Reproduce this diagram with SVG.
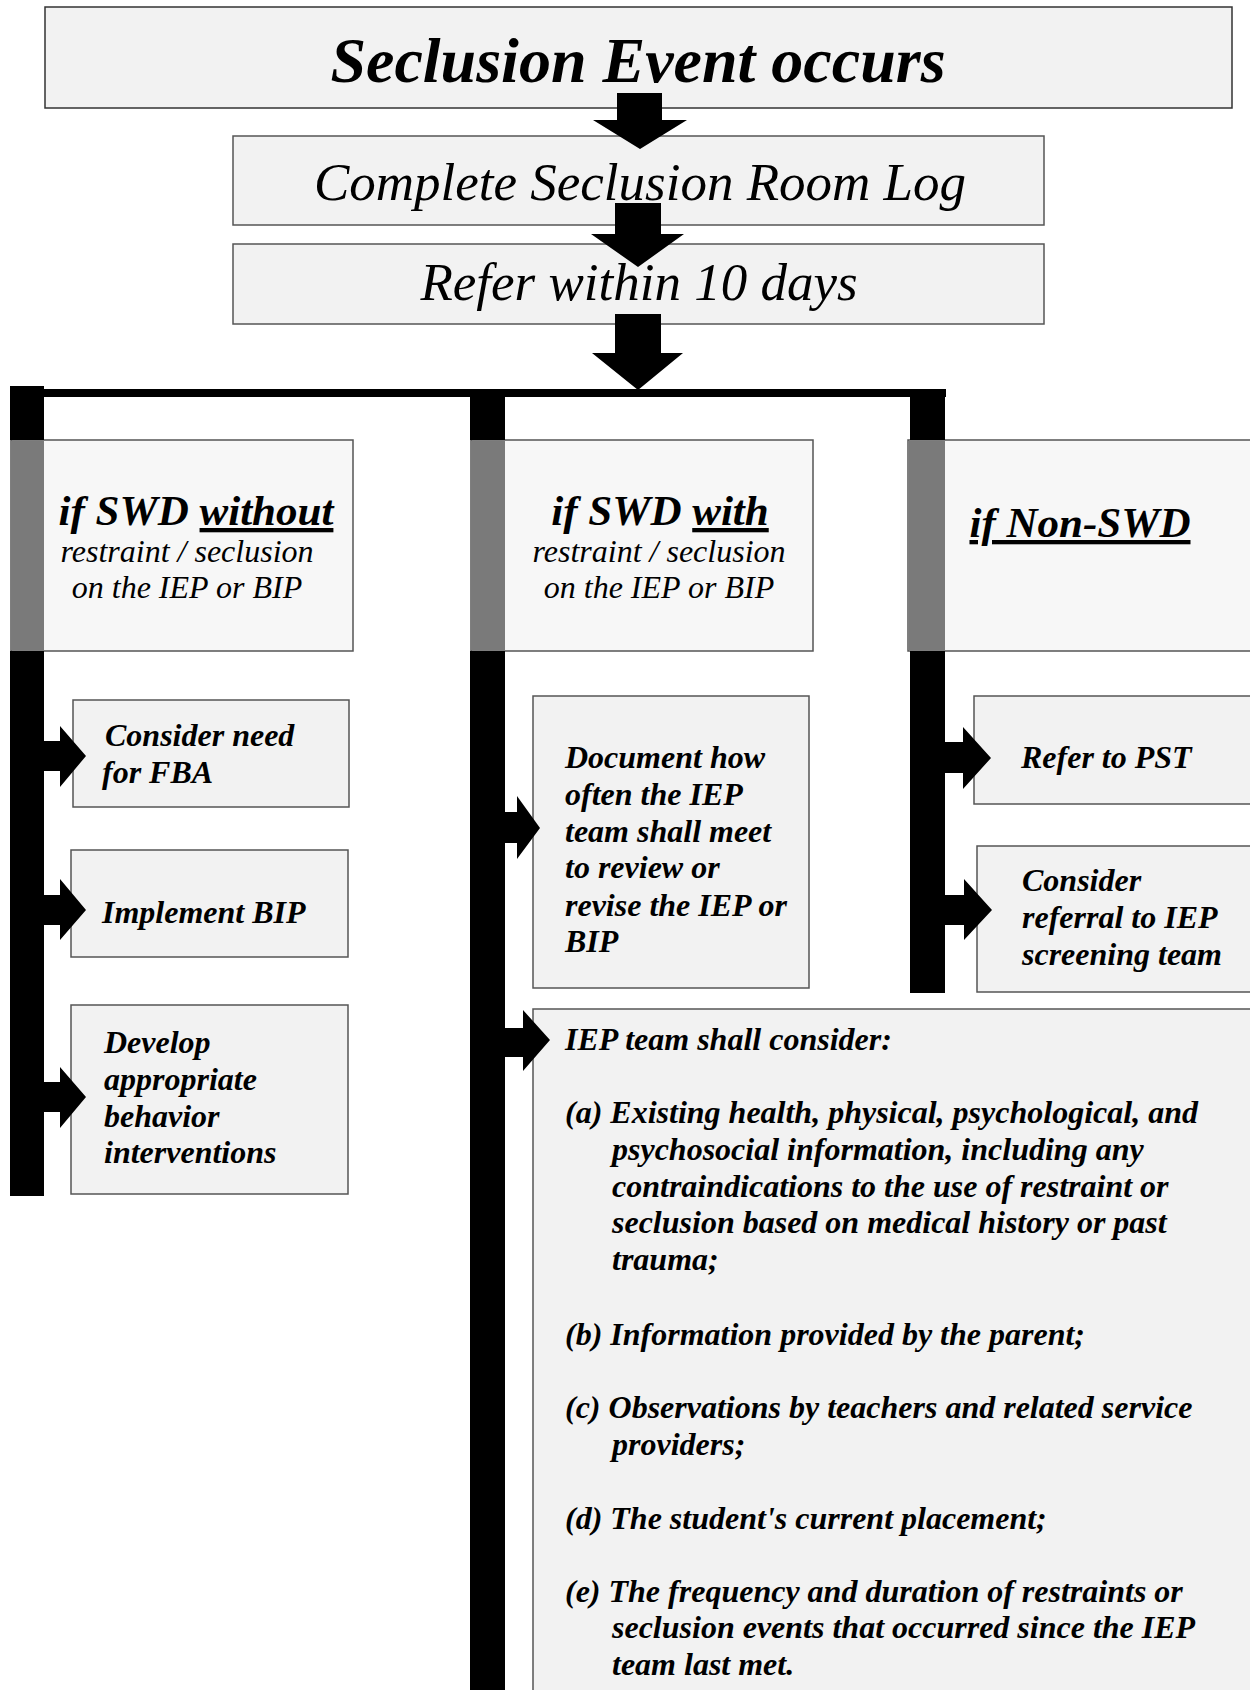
<svg xmlns="http://www.w3.org/2000/svg" width="1250" height="1690" viewBox="0 0 1250 1690">
<style>
.box{fill:#f2f2f2;stroke:#555;stroke-width:1.5}
.top{fill:#f2f2f2;stroke:#333;stroke-width:1.5}
.hdr{fill:#f7f7f7;stroke:#555;stroke-width:1.5}
.band{fill:#7a7a7a}
.bar{fill:#000}
.arr{fill:#000}
text{font-family:"Liberation Serif","Times New Roman",serif;fill:#000}
.bi{font-weight:bold;font-style:italic}
.it{font-style:italic}
.t1{font-size:64px}
.t2{font-size:53px}
.h{font-size:43px}
.hs{font-size:32px}
.s{font-size:32px}
.u{text-decoration:underline}
</style>
<g id="n-event">
<rect class="top" x="45" y="7" width="1187" height="101"/>
<text class="bi t1" x="638" y="82" text-anchor="middle">Seclusion Event occurs</text>
</g>
<g id="n-log">
<rect class="box" x="233" y="136" width="811" height="89"/>
<text class="it t2" x="640" y="200" text-anchor="middle">Complete Seclusion Room Log</text>
</g>
<g id="n-refer">
<rect class="box" x="233" y="244" width="811" height="80"/>
<text class="it t2" x="639" y="300" text-anchor="middle">Refer within 10 days</text>
</g>
<g id="n-without">
<rect class="hdr" x="11" y="440" width="342" height="211"/>
<rect class="band" x="11" y="441" width="33" height="209"/>
<text class="bi h" x="196" y="525" text-anchor="middle">if SWD <tspan class="u">without</tspan></text>
<text class="it hs" x="187" y="562" text-anchor="middle">restraint / seclusion</text>
<text class="it hs" x="187" y="598" text-anchor="middle">on the IEP or BIP</text>
</g>
<g id="n-with">
<rect class="hdr" x="471" y="440" width="342" height="211"/>
<rect class="band" x="471" y="441" width="34" height="209"/>
<text class="bi h" x="660" y="525" text-anchor="middle">if SWD <tspan class="u">with</tspan></text>
<text class="it hs" x="659" y="562" text-anchor="middle">restraint / seclusion</text>
<text class="it hs" x="659" y="598" text-anchor="middle">on the IEP or BIP</text>
</g>
<g id="n-nonswd">
<rect class="hdr" x="908" y="440" width="350" height="211"/>
<rect class="band" x="909" y="441" width="36" height="209"/>
<text class="bi h u" x="1080" y="537" text-anchor="middle">if Non-SWD</text>
</g>
<g id="n-fba">
<rect class="box" x="73" y="700" width="276" height="107"/>
<text class="bi s" x="105" y="746">Consider need</text>
<text class="bi s" x="102" y="783">for FBA</text>
</g>
<g id="n-bip">
<rect class="box" x="71" y="850" width="277" height="107"/>
<text class="bi s" x="102" y="923">Implement BIP</text>
</g>
<g id="n-develop">
<rect class="box" x="71" y="1005" width="277" height="189"/>
<text class="bi s" x="104" y="1053">Develop</text>
<text class="bi s" x="104" y="1090">appropriate</text>
<text class="bi s" x="104" y="1127">behavior</text>
<text class="bi s" x="104" y="1163">interventions</text>
</g>
<g id="n-document">
<rect class="box" x="533" y="696" width="276" height="292"/>
<text class="bi s" x="565" y="768">Document how</text>
<text class="bi s" x="565" y="805">often the IEP</text>
<text class="bi s" x="565" y="842">team shall meet</text>
<text class="bi s" x="565" y="878">to review or</text>
<text class="bi s" x="565" y="916">revise the IEP or</text>
<text class="bi s" x="565" y="952">BIP</text>
</g>
<g id="n-iep">
<rect class="box" x="533" y="1009" width="730" height="700"/>
<text class="bi s" x="565" y="1050">IEP team shall consider:</text>
<text class="bi s" x="565" y="1123">(a) Existing health, physical, psychological, and</text>
<text class="bi s" x="612" y="1160">psychosocial information, including any</text>
<text class="bi s" x="612" y="1197">contraindications to the use of restraint or</text>
<text class="bi s" x="612" y="1233">seclusion based on medical history or past</text>
<text class="bi s" x="612" y="1270">trauma;</text>
<text class="bi s" x="565" y="1345">(b) Information provided by the parent;</text>
<text class="bi s" x="565" y="1418">(c) Observations by teachers and related service</text>
<text class="bi s" x="612" y="1455">providers;</text>
<text class="bi s" x="565" y="1529">(d) The student's current placement;</text>
<text class="bi s" x="565" y="1602">(e) The frequency and duration of restraints or</text>
<text class="bi s" x="612" y="1638">seclusion events that occurred since the IEP</text>
<text class="bi s" x="612" y="1675">team last met.</text>
</g>
<g id="n-pst">
<rect class="box" x="974" y="696" width="290" height="108"/>
<text class="bi s" x="1021" y="768">Refer to PST</text>
</g>
<g id="n-screening">
<rect class="box" x="977" y="846" width="290" height="146"/>
<text class="bi s" x="1022" y="891">Consider</text>
<text class="bi s" x="1022" y="928">referral to IEP</text>
<text class="bi s" x="1022" y="965">screening team</text>
</g>
<g id="connectors">
<rect class="bar" x="10" y="389" width="936" height="8"/>
<rect class="bar" x="10" y="386" width="34" height="54"/>
<rect class="bar" x="10" y="651" width="34" height="545"/>
<rect class="bar" x="470" y="389" width="35" height="51"/>
<rect class="bar" x="470" y="651" width="35" height="1039"/>
<rect class="bar" x="910" y="389" width="35" height="51"/>
<rect class="bar" x="910" y="651" width="35" height="342"/>
<polygon class="arr" points="617,93 662,93 662,120 687,120 640,149 593,120 617,120"/>
<polygon class="arr" points="615,203 661,203 661,234 684,234 638,267 591,234 615,234"/>
<polygon class="arr" points="615,314 661,314 661,353 683,353 638,390 592,353 615,353"/>
<polygon class="arr" points="44,741 60,741 60,726 86,756 60,787 60,771 44,771"/>
<polygon class="arr" points="44,895 60,895 60,879 86,910 60,940 60,925 44,925"/>
<polygon class="arr" points="44,1082 60,1082 60,1067 86,1097 60,1128 60,1112 44,1112"/>
<polygon class="arr" points="505,812 517,812 517,796 540,828 517,859 517,843 505,843"/>
<polygon class="arr" points="505,1028 523,1028 523,1010 550,1040 523,1071 523,1057 505,1057"/>
<polygon class="arr" points="945,742 963,742 963,727 991,758 963,789 963,773 945,773"/>
<polygon class="arr" points="945,895 964,895 964,879 992,910 964,940 964,925 945,925"/>
</g>
</svg>
